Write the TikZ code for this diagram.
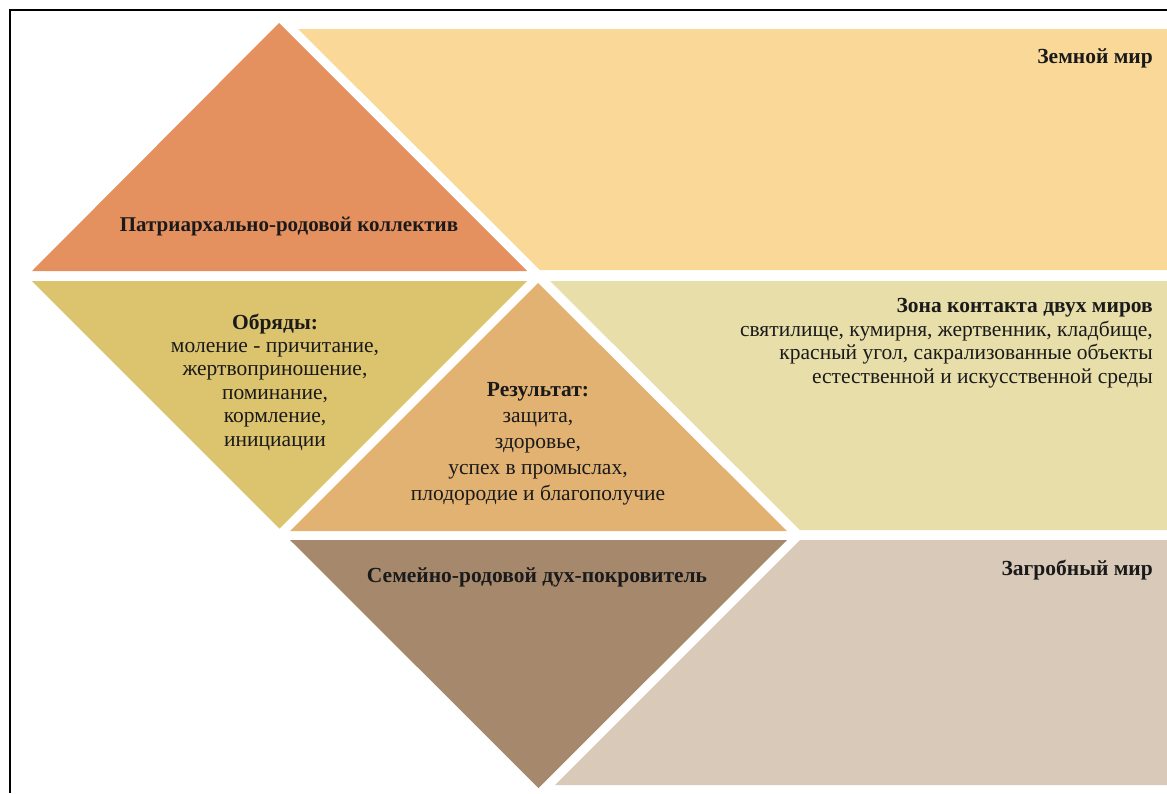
\documentclass[tikz,border=0pt]{standalone}
\usepackage{fontspec}
\setmainfont{Liberation Serif}
\definecolor{cPatr}{HTML}{E5905F}
\definecolor{cEarth}{HTML}{FAD898}
\definecolor{cRite}{HTML}{DCC36E}
\definecolor{cRes}{HTML}{E2B273}
\definecolor{cZone}{HTML}{E8DEA9}
\definecolor{cSpirit}{HTML}{A6896D}
\definecolor{cAfter}{HTML}{D9C9B8}
\definecolor{cText}{HTML}{1A1A1A}
\begin{document}
\begin{tikzpicture}[x=1pt,y=-1pt,
  lbl/.style={text=cText,inner sep=0pt,font=\fontsize{21.5}{23.4}\selectfont},
  lblc/.style={lbl,align=center},
  lblr/.style={lbl,align=right,anchor=north east}]
\useasboundingbox (0,0) rectangle (1167,793);
\fill[white] (0,0) rectangle (1167,793);
% frame
\draw[line width=1.5pt] (10,793) -- (10,10) -- (1167,10);
% shapes
\fill[cPatr]   (279,23) -- (527,271) -- (32,271) -- cycle;
\fill[cEarth]  (298,29) -- (1167,29) -- (1167,270) -- (540,270) -- cycle;
\fill[cRite]   (32,281) -- (527,281) -- (279.5,528.5) -- cycle;
\fill[cRes]    (538,283) -- (787,531) -- (290,531) -- cycle;
\fill[cZone]   (550,281) -- (1167,281) -- (1167,530) -- (800,530) -- cycle;
\fill[cSpirit] (290,540) -- (787,540) -- (538.5,788) -- cycle;
\fill[cAfter]  (800,540) -- (1167,540) -- (1167,785) -- (555,785) -- cycle;
% texts
\node[lblc,font=\fontsize{21}{23.4}\selectfont] (patr) at (289,226) {\textbf{Патриархально-родовой коллектив}};
\node[lblr] (earth) at (1153,48) {\textbf{Земной мир}};
\node[lblc,anchor=north] (rite) at (275,313.5) {\textbf{Обряды:}\\моление - причитание,\\жертвоприношение,\\поминание,\\кормление,\\инициации};
\node[lblc,anchor=north,font=\fontsize{21.5}{26}\selectfont] (res) at (538,382) {\textbf{Результат:}\\защита,\\здоровье,\\успех в промыслах,\\плодородие и благополучие};
\node[lblr] (zone) at (1153,298.5) {\textbf{Зона контакта двух миров}\\святилище, кумирня, жертвенник, кладбище,\\красный угол, сакрализованные объекты\\естественной и искусственной среды};
\node[lblc] (spirit) at (537,577) {\textbf{Семейно-родовой дух-покровитель}};
\node[lblr] (after) at (1153,560) {\textbf{Загробный мир}};
\end{tikzpicture}
\end{document}
